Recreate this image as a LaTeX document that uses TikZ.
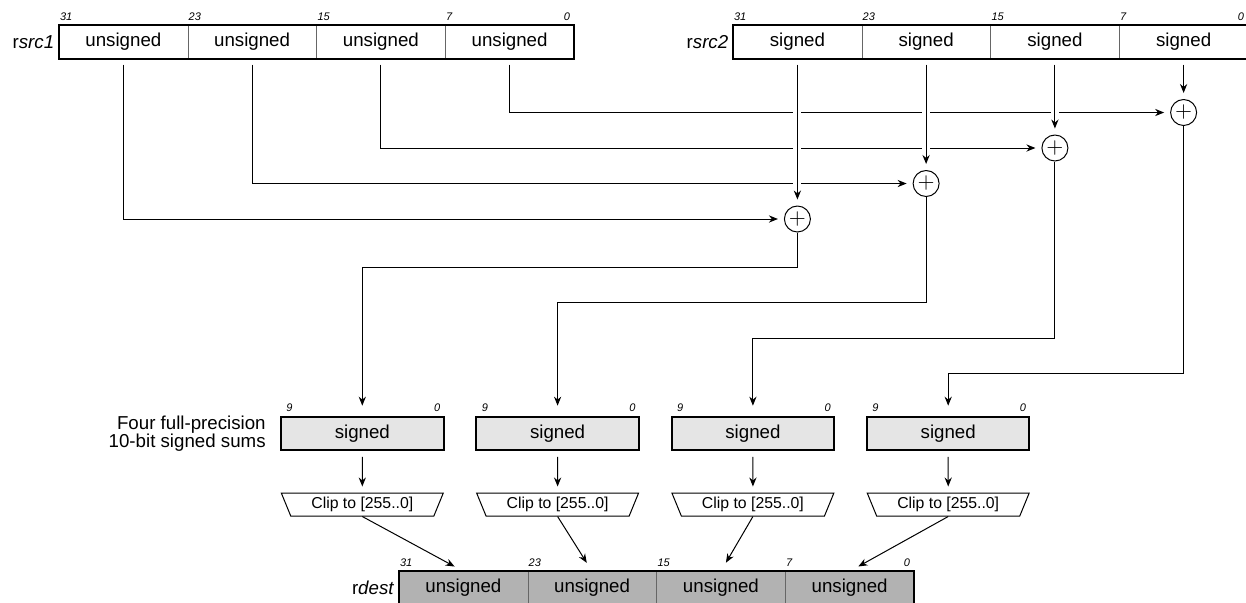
\documentclass[tikz,border=0pt]{standalone}
\usepackage{fontspec}
\setmainfont{Liberation Sans}
\usepackage{tikz}
\usetikzlibrary{arrows.meta, positioning, shapes.geometric}
\definecolor{SumGray}{gray}{0.9}
\definecolor{DestGray}{gray}{0.7}
\definecolor{DivGray}{gray}{0.4}

\tikzset{
  seg/.style={minimum width=64.375pt, minimum height=16.3pt, inner sep=0pt, font=\fontsize{9.35}{11}\selectfont},
  regframe/.style={line width=1pt},
  divider/.style={DivGray, line width=0.5pt},
  bitlbl/.style={inner sep=0pt, font=\fontsize{5.5}{6}\selectfont\itshape},
  reglbl/.style={inner sep=0pt, font=\fontsize{9.35}{11}\selectfont},
  wire/.style={line width=0.5pt},
  crossing/.style={preaction={draw=white, line width=4pt, arrows=-}},
  adder/.style={circle, draw, line width=0.5pt, minimum size=13pt, inner sep=0pt, font=\fontsize{10.5}{11}\selectfont},
  sumbox/.style={draw, line width=1pt, fill=SumGray, minimum width=81.25pt, minimum height=16.65pt, inner sep=0pt, font=\fontsize{9.35}{11}\selectfont},
  clipbox/.style={trapezium, draw, line width=0.5pt, shape border rotate=180, trapezium angle=65.5, trapezium stretches=true, minimum width=81.25pt, minimum height=11.5pt, inner sep=0pt, font=\fontsize{7.9}{9}\selectfont}
}

\begin{document}
\begin{tikzpicture}[x=0.5pt, y=-0.5pt, >={Stealth[length=4.5pt, width=3.6pt]}]
        \useasboundingbox (0,0) rectangle (1246,602);

        % Source register rsrc1
        \node[seg] (s1a) at (123.4,42) {unsigned};
        \node[seg] (s1b) at (252.1,42) {unsigned};
        \node[seg] (s1c) at (380.9,42) {unsigned};
        \node[seg] (s1d) at (509.6,42) {unsigned};
        \draw[divider] (s1a.north east) -- (s1a.south east) (s1b.north east) -- (s1b.south east) (s1c.north east) -- (s1c.south east);
        \draw[regframe] (s1a.north west) rectangle (s1d.south east);
        \node[reglbl, left=2pt of s1a] (n1) {r\textit{src1}};
        \node[bitlbl, anchor=south west] (b1a) at ([xshift=0.5pt, yshift=2pt]s1a.north west) {31};
        \node[bitlbl, anchor=south west] (b1b) at ([xshift=0.5pt, yshift=2pt]s1b.north west) {23};
        \node[bitlbl, anchor=south west] (b1c) at ([xshift=0.5pt, yshift=2pt]s1c.north west) {15};
        \node[bitlbl, anchor=south west] (b1d) at ([xshift=0.5pt, yshift=2pt]s1d.north west) {7};
        \node[bitlbl, anchor=south east] (b1e) at ([xshift=-2pt, yshift=2pt]s1d.north east) {0};

        % Source register rsrc2
        \node[seg] (s2a) at (797.4,42) {signed};
        \node[seg] (s2b) at (926.1,42) {signed};
        \node[seg] (s2c) at (1054.9,42) {signed};
        \node[seg] (s2d) at (1183.6,42) {signed};
        \draw[divider] (s2a.north east) -- (s2a.south east) (s2b.north east) -- (s2b.south east) (s2c.north east) -- (s2c.south east);
        \draw[regframe] (s2a.north west) rectangle (s2d.south east);
        \node[reglbl, left=2pt of s2a] (n2) {r\textit{src2}};
        \node[bitlbl, anchor=south west] (b2a) at ([xshift=0.5pt, yshift=2pt]s2a.north west) {31};
        \node[bitlbl, anchor=south west] (b2b) at ([xshift=0.5pt, yshift=2pt]s2b.north west) {23};
        \node[bitlbl, anchor=south west] (b2c) at ([xshift=0.5pt, yshift=2pt]s2c.north west) {15};
        \node[bitlbl, anchor=south west] (b2d) at ([xshift=0.5pt, yshift=2pt]s2d.north west) {7};
        \node[bitlbl, anchor=south east] (b2e) at ([xshift=-2pt, yshift=2pt]s2d.north east) {0};

        % Adders
        \node[adder] (add1) at (1183.6,112.5) {$+$};
        \node[adder] (add2) at (1054.9,148) {$+$};
        \node[adder] (add3) at (926.1,183.5) {$+$};
        \node[adder] (add4) at (797.4,219) {$+$};

        % rsrc1 bytes into the adders
        \draw[wire, ->, shorten <=3pt, shorten >=3pt] (s1d) |- (add1);
        \draw[wire, ->, shorten <=3pt, shorten >=3pt] (s1c) |- (add2);
        \draw[wire, ->, shorten <=3pt, shorten >=3pt] (s1b) |- (add3);
        \draw[wire, ->, shorten <=3pt, shorten >=3pt] (s1a) |- (add4);

        % rsrc2 bytes into the adders
        \draw[wire, ->, shorten <=3pt, shorten >=3pt] (s2d) -- (add1);
        \draw[wire, crossing, ->, shorten <=3pt, shorten >=3pt] (s2c) -- (add2);
        \draw[wire, crossing, ->, shorten <=3pt, shorten >=3pt] (s2b) -- (add3);
        \draw[wire, crossing, ->, shorten <=3pt, shorten >=3pt] (s2a) -- (add4);

        % 10-bit sums
        \node[sumbox] (sum1) at (362.3,433.3) {signed};
        \node[sumbox] (sum2) at (557.6,433.3) {signed};
        \node[sumbox] (sum3) at (752.9,433.3) {signed};
        \node[sumbox] (sum4) at (948.2,433.3) {signed};
        \foreach \s in {sum1, sum2, sum3, sum4} {
            \node[bitlbl, anchor=south west] (\s-hi) at ([xshift=3pt, yshift=2pt]\s.north west) {9};
            \node[bitlbl, anchor=south east] (\s-lo) at ([xshift=-2pt, yshift=2pt]\s.north east) {0};
        }
        \node[reglbl, left=7pt of sum1, align=right, font=\fontsize{9.35}{9}\selectfont] (note) {Four full-precision\\10-bit signed sums};

        % Adder outputs to the sums
        \draw[wire, ->, shorten >=5pt] (add4) -- ++(0,48) -| (sum1);
        \draw[wire, ->, shorten >=5pt] (add3) -- ++(0,119) -| (sum2);
        \draw[wire, ->, shorten >=5pt] (add2) -- ++(0,190) -| (sum3);
        \draw[wire, ->, shorten >=5pt] (add1) -- ++(0,261) -| (sum4);

        % Clipping
        \node[clipbox] (clip1) at (362.3,504.5) {Clip to [255..0]};
        \node[clipbox] (clip2) at (557.6,504.5) {Clip to [255..0]};
        \node[clipbox] (clip3) at (752.9,504.5) {Clip to [255..0]};
        \node[clipbox] (clip4) at (948.2,504.5) {Clip to [255..0]};
        \draw[wire, ->, shorten <=3pt, shorten >=3pt] (sum1) -- (clip1);
        \draw[wire, ->, shorten <=3pt, shorten >=3pt] (sum2) -- (clip2);
        \draw[wire, ->, shorten <=3pt, shorten >=3pt] (sum3) -- (clip3);
        \draw[wire, ->, shorten <=3pt, shorten >=3pt] (sum4) -- (clip4);

        % Destination register rdest
        \node[seg, fill=DestGray] (d1) at (463.4,588) {unsigned};
        \node[seg, fill=DestGray] (d2) at (592.1,588) {unsigned};
        \node[seg, fill=DestGray] (d3) at (720.9,588) {unsigned};
        \node[seg, fill=DestGray] (d4) at (849.6,588) {unsigned};
        \draw[divider] (d1.north east) -- (d1.south east) (d2.north east) -- (d2.south east) (d3.north east) -- (d3.south east);
        \draw[regframe] (d1.north west) rectangle (d4.south east);
        \node[reglbl, left=2pt of d1] (n3) {r\textit{dest}};
        \node[bitlbl, anchor=south west] (b3a) at ([xshift=0.5pt, yshift=2pt]d1.north west) {31};
        \node[bitlbl, anchor=south west] (b3b) at ([xshift=0.5pt, yshift=2pt]d2.north west) {23};
        \node[bitlbl, anchor=south west] (b3c) at ([xshift=0.5pt, yshift=2pt]d3.north west) {15};
        \node[bitlbl, anchor=south west] (b3d) at ([xshift=0.5pt, yshift=2pt]d4.north west) {7};
        \node[bitlbl, anchor=south east] (b3e) at ([xshift=-2pt, yshift=2pt]d4.north east) {0};

        % Clipped bytes into rdest
        \draw[wire, ->, shorten >=5pt] (clip1.south) -- (d1.north);
        \draw[wire, ->, shorten >=5pt] (clip2.south) -- (d2.north);
        \draw[wire, ->, shorten >=5pt] (clip3.south) -- (d3.north);
        \draw[wire, ->, shorten >=5pt] (clip4.south) -- (d4.north);
    \end{tikzpicture}
\end{document}
